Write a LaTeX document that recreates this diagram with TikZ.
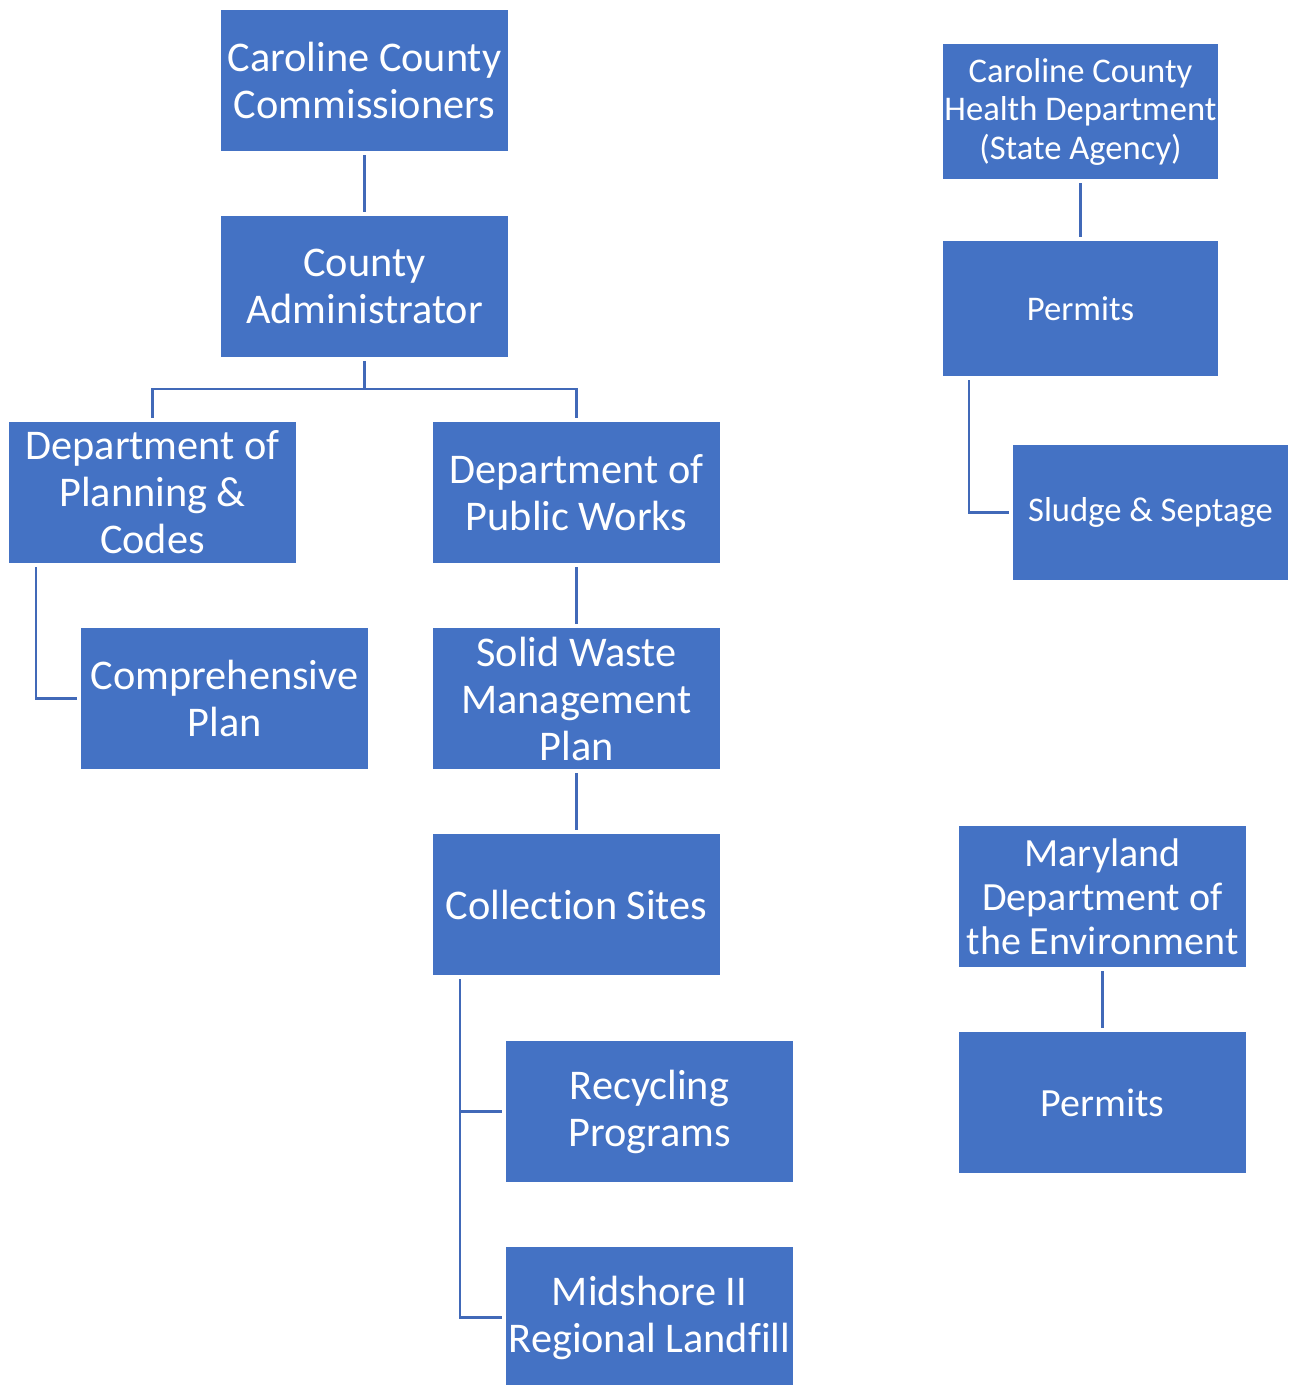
\documentclass[tikz,border=0pt]{standalone}
\usepackage{fontspec}
\setmainfont{Carlito}[Ligatures={NoCommon}]
\usetikzlibrary{calc}
\definecolor{boxblue}{HTML}{4472C4}
\definecolor{lineblue}{HTML}{4169B8}
\tikzset{
  orgbox/.style={fill=boxblue, text=white, draw=none, inner sep=0pt, outer sep=4pt,
    align=center, minimum width=287pt, minimum height=141pt,
    font=\fontsize{42.3}{47}\selectfont},
  smallbox/.style={orgbox, minimum width=275pt, minimum height=135pt,
    font=\fontsize{34.6}{38.5}\selectfont},
  midbox/.style={orgbox, font=\fontsize{40}{44}\selectfont},
  conn/.style={draw=lineblue, line width=2.4pt}
}
\begin{document}
\begin{tikzpicture}[x=1pt,y=-1pt]
\useasboundingbox (0,0) rectangle (1291,1385);
\node[orgbox] (comm) at (364.5,80.5) {Caroline County\\Commissioners};
\node[orgbox] (admin) at (364.5,286.5) {County\\Administrator};
\node[orgbox] (plan) at (152.5,492.5) {Department of\\Planning \&\\Codes};
\node[orgbox] (pw) at (576.5,492.5) {Department of\\Public Works};
\node[orgbox] (comp) at (224.5,698.5) {Comprehensive\\Plan};
\node[orgbox] (swmp) at (576.5,698.5) {Solid Waste\\Management\\Plan};
\node[orgbox] (coll) at (576.5,904.5) {Collection Sites};
\node[orgbox] (recyc) at (649.5,1111.5) {Recycling\\Programs};
\node[orgbox] (land) at (649.5,1317.5) {Midshore II\\Regional Landfill};
\node[smallbox] (health) at (1080.5,111.5) {Caroline County\\Health Department\\(State Agency)};
\node[smallbox] (perma) at (1080.5,308.5) {Permits};
\node[smallbox] (sludge) at (1150.5,512.5) {Sludge \& Septage};
\node[midbox] (mde) at (1102.5,896.5) {Maryland\\Department of\\the Environment};
\node[midbox] (permb) at (1102.5,1102.5) {Permits};
\coordinate (bus) at (364.5,389);
\draw[conn] (comm.south) -- (admin.north);
\draw[conn] (admin.south) -- (bus) -| (plan.north);
\draw[conn] (bus) -| (pw.north);
\draw[conn] ($(plan.south west)+(31,0)$) |- (comp.west);
\draw[conn] (pw.south) -- (swmp.north);
\draw[conn] (swmp.south) -- (coll.north);
\draw[conn] ($(coll.south west)+(31,0)$) |- (recyc.west);
\draw[conn] ($(coll.south west)+(31,0)$) |- (land.west);
\draw[conn] (health.south) -- (perma.north);
\draw[conn] ($(perma.south west)+(30,0)$) |- (sludge.west);
\draw[conn] (mde.south) -- (permb.north);
\end{tikzpicture}
\end{document}
